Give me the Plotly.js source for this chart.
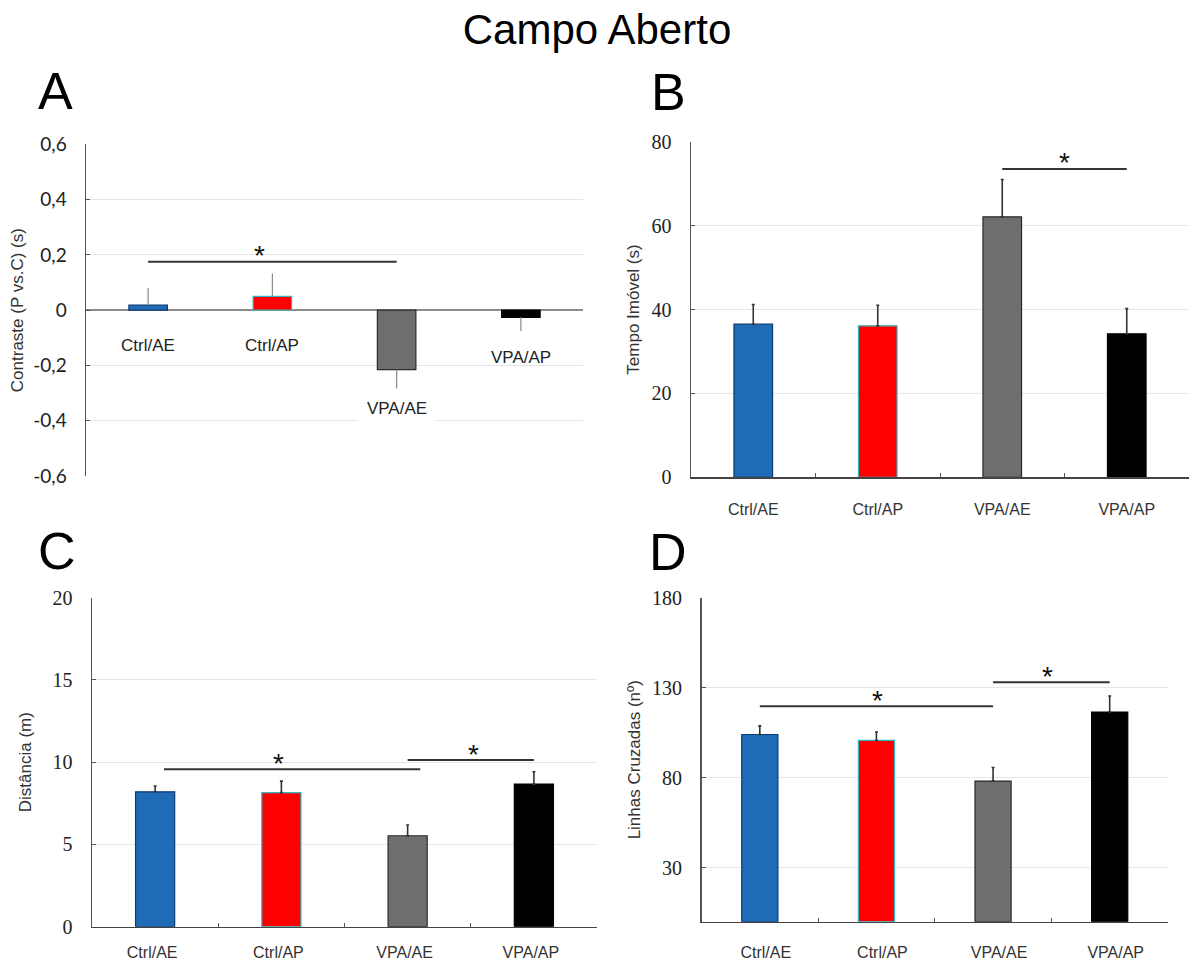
<!DOCTYPE html>
<html>
<head>
<meta charset="utf-8">
<script src="https://cdn.plot.ly/plotly-3.0.1.min.js"></script>
<style>html,body{margin:0;padding:0;background:#fff;}#chart{width:1194px;height:962px;}</style>
</head>
<body>
<div id="chart"></div>
<script>
// ---- data ----
const categories = ['Ctrl/AE', 'Ctrl/AP', 'VPA/AE', 'VPA/AP'];

const contrasteA = [0.018, 0.05, -0.215, -0.026];
const contrasteErrA = [0.062, 0.083, 0.068, 0.049];

const tempoImovelB = [36.5, 36.1, 62.1, 34.2];
const tempoImovelErrB = [4.7, 4.9, 8.9, 6.0];

const distanciaC = [8.2, 8.15, 5.53, 8.67];
const distanciaErrC = [0.35, 0.7, 0.65, 0.75];

const linhasD = [104.0, 100.7, 78.1, 116.5];
const linhasErrD = [4.8, 4.7, 7.6, 8.9];

const tickValsA = [-0.6, -0.4, -0.2, 0, 0.2, 0.4, 0.6];
const tickTextA = ['-0,6', '-0,4', '-0,2', '0', '0,2', '0,4', '0,6'];
const tickValsB = [0, 20, 40, 60, 80];
const tickValsC = [0, 5, 10, 15, 20];
const tickValsD = [30, 80, 130, 180];

// significance brackets: [from, to, y, starX]
const sigA = [[0, 2, 0.175, 0.9]];
const sigB = [[2, 3, 73.5, 2.5]];
const sigC = [[0.07, 2.1, 9.57, 0.98], [2, 3, 10.13, 2.52]];
const sigD = [[0, 2, 119.7, 1.01], [2, 3, 133.0, 2.47]];

// ---- styling ----
const barColors = ['#1f6bb5', '#ff0000', '#6e6e6e', '#000000'];
const barLines = ['#0b3b75', '#30b8c0', '#2a2a2a', '#000000'];
const SANS = 'Liberation Sans, Arial, sans-serif';
const SERIF = 'Liberation Serif, Times New Roman, serif';

function barTrace(vals, errs, xa, ya, light) {
  return {
    type: 'bar', x: categories, y: vals, xaxis: xa, yaxis: ya,
    marker: {color: barColors, line: {color: barLines, width: 1.2}},
    error_y: {
      type: 'data', symmetric: false,
      array: vals.map((v, i) => v >= 0 ? errs[i] : 0),
      arrayminus: vals.map((v, i) => v < 0 ? errs[i] : 0),
      color: light ? '#8a8a8a' : '#333333',
      thickness: light ? 1.2 : 1.6,
      width: light ? 0 : 1.5
    },
    hoverinfo: 'x+y'
  };
}

const data = [
  barTrace(contrasteA, contrasteErrA, 'x', 'y', true),
  barTrace(tempoImovelB, tempoImovelErrB, 'x2', 'y2', false),
  barTrace(distanciaC, distanciaErrC, 'x3', 'y3', false),
  barTrace(linhasD, linhasErrD, 'x4', 'y4', false)
];

const W = 1194, H = 962;
const px = v => v / W;
const py = v => 1 - v / H;

function catAxis(dom, extra) {
  return Object.assign({
    domain: dom, type: 'category', range: [-0.5, 3.5],
    showline: true, linecolor: '#444', linewidth: 1.5,
    ticks: 'inside', tickson: 'boundaries', ticklen: 4, tickcolor: '#555', tickwidth: 1,
    showgrid: false, zeroline: false, fixedrange: true,
    tickfont: {family: SANS, size: 16, color: '#333'}
  }, extra);
}
function valAxis(dom, rng, tv, extra) {
  return Object.assign({
    domain: dom, range: rng, tickvals: tv,
    showline: true, linecolor: '#555', linewidth: 1.5,
    ticks: 'inside', ticklen: 4, tickcolor: '#555',
    showgrid: true, gridcolor: '#e6e6e6', gridwidth: 1,
    zeroline: false, fixedrange: true, ticklabelstandoff: 14,
    tickfont: {family: SERIF, size: 20, color: '#222'}
  }, extra);
}
const titleFont = {family: SANS, size: 17, color: '#333'};

const layout = {
  width: W, height: H,
  margin: {l: 0, r: 0, t: 0, b: 0},
  paper_bgcolor: '#fff', plot_bgcolor: '#fff',
  showlegend: false, bargap: 0.69,
  title: {text: 'Campo Aberto', font: {family: SANS, size: 42, color: '#000'},
          x: 0.5, xanchor: 'center', y: py(29), yanchor: 'middle', yref: 'paper'},
  xaxis: catAxis([px(86), px(583)], {showline: false, ticks: '', showticklabels: false, anchor: 'y'}),
  yaxis: valAxis([py(476), py(144.3)], [-0.6, 0.6], tickValsA, {
    ticktext: tickTextA, anchor: 'x',
    zeroline: true, zerolinecolor: '#8c8c8c', zerolinewidth: 1.3,
    tickfont: {family: 'Lato, Liberation Sans, sans-serif', size: 19, color: '#222'},
    title: {text: 'Contraste (P vs.C) (s)', font: titleFont, standoff: 5}
  }),
  xaxis2: catAxis([px(691), px(1189)], {anchor: 'y2', ticklabelstandoff: 17}),
  yaxis2: valAxis([py(477.3), py(141.7)], [0, 80], tickValsB, {
    anchor: 'x2',
    title: {text: 'Tempo Imóvel (s)', font: titleFont, standoff: 7}
  }),
  xaxis3: catAxis([px(92), px(597)], {anchor: 'y3', ticklabelshift: -3, ticklabelstandoff: 11}),
  yaxis3: valAxis([py(926.7), py(597.7)], [0, 20], tickValsC, {
    anchor: 'x3',
    title: {text: 'Distância (m)', font: titleFont, standoff: 16}
  }),
  xaxis4: catAxis([px(701.5), px(1168)], {anchor: 'y4', ticklabelshift: 6, ticklabelstandoff: 16}),
  yaxis4: valAxis([py(921.7), py(597.7)], [0, 180], tickValsD, {
    anchor: 'x4',
    title: {text: 'Linhas Cruzadas (nº)', font: titleFont, standoff: 7}
  }),
  shapes: [],
  annotations: []
};

// panel letters
[['A', 55, 91], ['B', 668, 92], ['C', 57, 551], ['D', 668, 552]].forEach(([t, x, y]) => {
  layout.annotations.push({text: t, xref: 'paper', yref: 'paper', x: px(x), y: py(y),
    xanchor: 'center', yanchor: 'middle', showarrow: false,
    font: {family: SANS, size: 52, color: '#000'}});
});

// in-plot category labels for panel A
const labelYA = [-0.128, -0.128, -0.354, -0.17];
categories.forEach((c, i) => {
  const ann = {text: c, xref: 'x', yref: 'y', x: c, y: labelYA[i], showarrow: false,
    xanchor: 'center', yanchor: 'middle', font: {family: SANS, size: 17, color: '#222'}};
  if (i === 2) { ann.bgcolor = '#fff'; ann.width = 68; ann.height = 20; ann.borderpad = 4; }
  layout.annotations.push(ann);
});

// significance brackets
[[sigA, 'x', 'y'], [sigB, 'x2', 'y2'], [sigC, 'x3', 'y3'], [sigD, 'x4', 'y4']].forEach(([list, xa, ya]) => {
  list.forEach(([a, b, y, sx]) => {
    layout.shapes.push({type: 'line', xref: xa, yref: ya, x0: a, x1: b, y0: y, y1: y,
      line: {color: '#333', width: 2}});
    layout.annotations.push({text: '*', xref: xa, yref: ya, x: sx, y: y, showarrow: false,
      xanchor: 'center', yanchor: 'middle', yshift: 6,
      font: {family: SANS, size: 28, color: '#111'}});
  });
});

Plotly.newPlot('chart', data, layout, {displayModeBar: false, staticPlot: true});
</script>
</body>
</html>
